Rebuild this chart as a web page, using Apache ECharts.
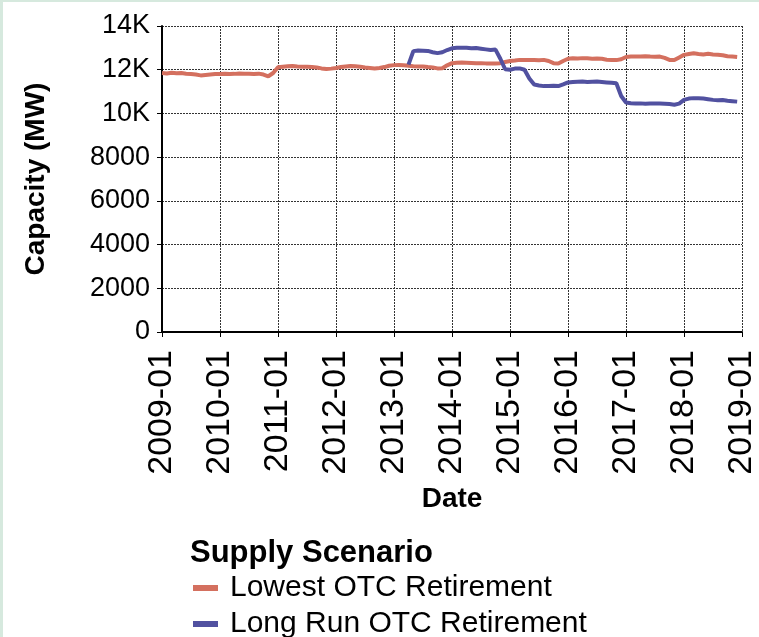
<!DOCTYPE html>
<html>
<head>
<meta charset="utf-8">
<script src="https://cdn.jsdelivr.net/npm/echarts@6/dist/echarts.min.js"></script>
<style>
  html, body { margin: 0; padding: 0; background: #d6e9de; }
  #chart { position: absolute; left: 3px; top: 2px; width: 756px; height: 635px; background: #fff; }
</style>
</head>
<body>
<div id="chart"></div>
<script>
// x axis: one tick per January
const yearTicks = [2009, 2010, 2011, 2012, 2013, 2014, 2015, 2016, 2017, 2018, 2019]

// monthly capacity (MW), Lowest OTC Retirement, 2009-01 .. 2018-12
const lowestStart = [2009, 1]
const lowestOtc = [
  11850, 11830, 11860, 11840, 11850, 11820, 11800, 11780, 11740, 11760, 11780, 11800,
  11800, 11820, 11800, 11810, 11830, 11820, 11810, 11800, 11820, 11780, 11700, 11850,
  12110, 12140, 12160, 12170, 12150, 12140, 12130, 12120, 12100, 12060, 12030, 12050,
  12080, 12120, 12150, 12170, 12160, 12140, 12100, 12080, 12060, 12080, 12120, 12180,
  12210, 12220, 12200, 12180, 12160, 12150, 12150, 12120, 12100, 12060, 12070, 12200,
  12300, 12320, 12330, 12320, 12310, 12300, 12300, 12290, 12290, 12280, 12300, 12350,
  12400, 12420, 12450, 12440, 12450, 12440, 12430, 12450, 12400, 12300, 12280, 12400,
  12500, 12520, 12510, 12530, 12520, 12500, 12510, 12500, 12460, 12450, 12440, 12480,
  12580, 12600, 12610, 12600, 12620, 12600, 12590, 12600, 12540, 12450, 12440, 12560,
  12680, 12720, 12750, 12720, 12700, 12730, 12700, 12680, 12660, 12620, 12600, 12580
]

// monthly capacity (MW), Long Run OTC Retirement, 2013-04 .. 2018-12
const longRunStart = [2013, 4]
const longRunOtc = [
  12230, 12850, 12880, 12870, 12860, 12800, 12760, 12800, 12900,
  12980, 13000, 13010, 13000, 12980, 12990, 12960, 12930, 12900, 12920, 12500, 12020,
  12000, 12050, 12060, 12000, 11600, 11320, 11280, 11250, 11260, 11270, 11250, 11330,
  11420, 11440, 11450, 11460, 11440, 11450, 11460, 11440, 11420, 11400, 11380, 10800,
  10500, 10470, 10450, 10460, 10440, 10450, 10460, 10450, 10440, 10430, 10400, 10450,
  10620, 10680, 10700, 10690, 10680, 10650, 10620, 10600, 10610, 10580, 10560, 10540
]

const seriesNames = ['Lowest OTC Retirement', 'Long Run OTC Retirement']
const seriesColors = ['#d4705f', '#5151a0']

// month index -> decimal year on the value axis
function toPoints(start, values) {
  return values.map(function (v, i) {
    const m = start[1] - 1 + i
    return [start[0] + m / 12, v]
  })
}

const font = 'Liberation Sans, Arial, sans-serif'
const chart = echarts.init(document.getElementById('chart'))

const option = {
  animation: false,
  textStyle: { fontFamily: font, color: '#000' },
  title: {
    text: 'Supply Scenario',
    left: 187,
    top: 536,
    padding: 0,
    textStyle: { fontFamily: font, fontSize: 31, fontWeight: 'bold', color: '#000' }
  },
  legend: {
    data: seriesNames,
    orient: 'vertical',
    left: 190,
    top: 570,
    width: 500,
    height: 80,
    padding: 0,
    itemWidth: 25,
    itemHeight: 6,
    itemGap: 4,
    icon: 'rect',
    textStyle: { fontFamily: font, fontSize: 30, color: '#000', lineHeight: 32, padding: [0, 0, 0, 7] }
  },
  grid: { left: 159, top: 24, right: 10, bottom: 305 },
  xAxis: {
    type: 'value',
    min: yearTicks[0],
    max: yearTicks[yearTicks.length - 1],
    interval: 1,
    name: 'Date',
    nameLocation: 'middle',
    nameGap: 153,
    nameTextStyle: { fontFamily: font, fontSize: 28, fontWeight: 'bold', color: '#000' },
    axisLine: { lineStyle: { color: '#000', width: 2 } },
    axisTick: { show: true, length: 5, lineStyle: { color: '#000' } },
    axisLabel: {
      rotate: 90,
      margin: 18,
      fontSize: 34,
      color: '#000',
      formatter: function (v) { return v + '-01' }
    },
    splitLine: { show: true, lineStyle: { color: '#333', type: [2, 1], width: 1 } }
  },
  yAxis: {
    type: 'value',
    min: 0,
    max: 14000,
    interval: 2000,
    name: 'Capacity (MW)',
    nameLocation: 'middle',
    nameRotate: 90,
    nameGap: 112,
    nameTextStyle: { fontFamily: font, fontSize: 28, fontWeight: 'bold', color: '#000' },
    axisLine: { show: true, lineStyle: { color: '#000', width: 2 } },
    axisTick: { show: true, length: 5, lineStyle: { color: '#000' } },
    axisLabel: {
      margin: 12,
      fontSize: 27,
      color: '#000',
      formatter: function (v) { return v >= 10000 ? (v / 1000) + 'K' : String(v) }
    },
    splitLine: { show: true, lineStyle: { color: '#333', type: [2, 1], width: 1 } }
  },
  series: [
    {
      name: seriesNames[0],
      type: 'line',
      data: toPoints(lowestStart, lowestOtc),
      showSymbol: false,
      color: seriesColors[0],
      lineStyle: { width: 4, color: seriesColors[0] }
    },
    {
      name: seriesNames[1],
      type: 'line',
      data: toPoints(longRunStart, longRunOtc),
      showSymbol: false,
      color: seriesColors[1],
      lineStyle: { width: 4, color: seriesColors[1] }
    }
  ]
}

chart.setOption(option)
window.addEventListener('resize', () => chart.resize())
</script>
</body>
</html>
